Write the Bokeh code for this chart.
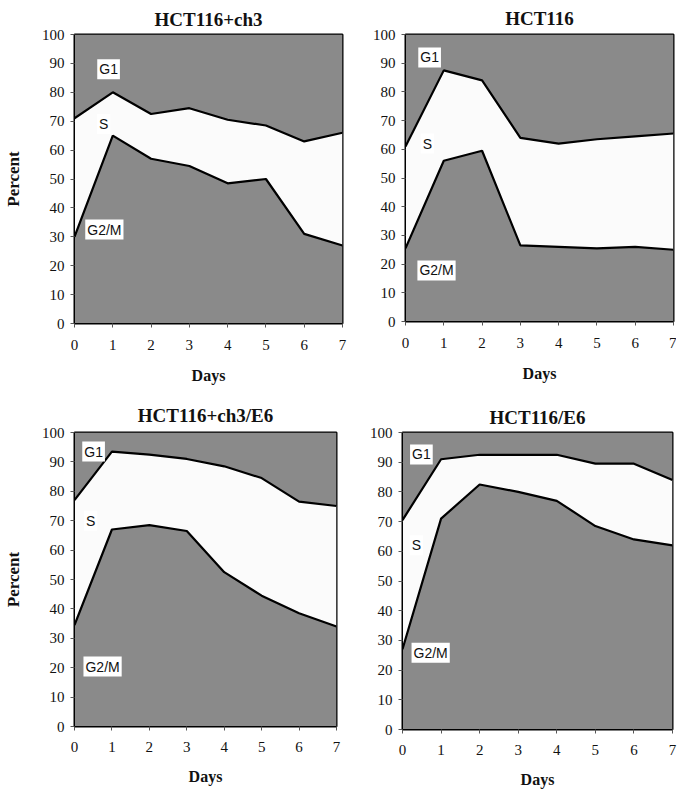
from bokeh.plotting import figure
from bokeh.layouts import column, row
from bokeh.models import ColumnDataSource, Label, Range1d, FixedTicker
from bokeh.embed import file_html
from bokeh.resources import INLINE

days = [0, 1, 2, 3, 4, 5, 6, 7]
phases = ["G2/M", "S", "G1"]

# Percent of cells in each phase (G2/M, S, G1) per day
ch3_g2m = [30, 65, 57, 54.5, 48.5, 50, 31, 27]
ch3_s = [41, 15, 15.5, 20, 22, 18.5, 32, 39]
ch3_g1 = [29, 20, 27.5, 25.5, 29.5, 31.5, 37, 34]

hct_g2m = [25.5, 56, 59.5, 26.5, 26, 25.5, 26, 25]
hct_s = [35.5, 31.5, 24.5, 37.5, 36, 38, 38.5, 40.5]
hct_g1 = [39, 12.5, 16, 36, 38, 36.5, 35.5, 34.5]

ch3e6_g2m = [34.5, 67, 68.5, 66.5, 52.5, 44.5, 38.5, 34]
ch3e6_s = [42.5, 26.5, 24, 24.5, 36, 40, 38, 41]
ch3e6_g1 = [23, 6.5, 7.5, 9, 11.5, 15.5, 23.5, 25]

e6_g2m = [27, 71, 82.5, 80, 77, 68.5, 64, 62]
e6_s = [43.5, 20, 10, 12.5, 15.5, 21, 25.5, 22]
e6_g1 = [29.5, 9, 7.5, 7.5, 7.5, 10.5, 10.5, 16]

GRAY = "#8a8a8a"
LIGHT = "#fbfbfb"
SERIF = "Liberation Serif"
SANS = "Liberation Sans"


def panel(title, g2m, s, g1, fw, fh, bl, br, bt, bb, ylabel, lab_pos,
          title_standoff, label_standoff, days_standoff):
    top_g2m = list(g2m)
    top_s = [a + b for a, b in zip(g2m, s)]
    src = ColumnDataSource(dict(day=days, g2m=g2m, s=s, g1=g1, top_g2m=top_g2m, top_s=top_s))
    p = figure(frame_width=fw, frame_height=fh, output_backend="svg", toolbar_location=None,
               x_range=Range1d(0, 7), y_range=Range1d(0, 100),
               min_border_left=bl, min_border_right=br, min_border_top=bt, min_border_bottom=bb,
               title=title)
    p.varea_stack(["g2m", "s", "g1"], x="day", source=src, color=[GRAY, LIGHT, GRAY])
    p.line("day", "top_g2m", source=src, line_color="black", line_width=2.2)
    p.line("day", "top_s", source=src, line_color="black", line_width=2.2)

    p.title.text_font = SERIF
    p.title.text_font_style = "bold"
    p.title.text_font_size = "19px"
    p.title.text_color = "#111111"
    p.title.align = "center"
    p.title.standoff = title_standoff

    p.grid.visible = False
    p.outline_line_color = "black"
    p.outline_line_width = 2
    p.background_fill_color = GRAY

    for ax in (p.xaxis[0], p.yaxis[0]):
        ax.major_label_text_font = SERIF
        ax.major_label_text_font_size = "15px"
        ax.major_label_text_color = "#111111"
        ax.axis_label_text_font = SERIF
        ax.axis_label_text_font_style = "bold"
        ax.axis_label_text_color = "#111111"
        ax.minor_tick_line_color = None
        ax.major_tick_in = 0
        ax.major_tick_out = 4
        ax.major_tick_line_color = "#555555"
        ax.axis_line_color = "black"
    p.xaxis.ticker = FixedTicker(ticks=days)
    p.yaxis.ticker = FixedTicker(ticks=list(range(0, 101, 10)))
    p.xaxis.major_label_standoff = label_standoff
    p.yaxis.major_label_standoff = 6
    p.xaxis.axis_label = "Days"
    p.xaxis.axis_label_text_font_size = "16px"
    p.xaxis.axis_label_standoff = days_standoff
    if ylabel:
        p.yaxis.axis_label = "Percent"
        p.yaxis.axis_label_text_font_size = "17px"
        p.yaxis.axis_label_standoff = 16

    for name, (lx, ly) in zip(phases, lab_pos):
        p.add_layout(Label(x=lx, y=ly, text=name, text_font=SANS, text_font_size="14px",
                           text_color="#111111", text_align="center", text_baseline="middle",
                           background_fill_color="white", background_fill_alpha=1.0,
                           padding=2))
    return p


p1 = panel("HCT116+ch3", ch3_g2m, ch3_s, ch3_g1, 268, 289, 68, 6, 27, 74, True,
           [(0.78, 32.5), (0.76, 69), (0.89, 88)], 9, 12, 14)
p2 = panel("HCT116", hct_g2m, hct_s, hct_g1, 268, 287, 57, 3, 31, 72, False,
           [(0.81, 17.8), (0.57, 62), (0.63, 92)], 11, 12, 14)
p3 = panel("HCT116+ch3/E6", ch3e6_g2m, ch3e6_s, ch3e6_g1, 262, 294, 66, 14, 36, 64, True,
           [(0.75, 20.4), (0.43, 70), (0.51, 93.5)], 14, 11, 13)
p4 = panel("HCT116/E6", e6_g2m, e6_s, e6_g1, 270, 297, 52, 6, 33, 64, False,
           [(0.73, 25.8), (0.36, 62), (0.49, 92.6)], 9, 11, 13)

layout = column(row(p1, p2), row(p3, p4))
open("out.html", "w").write(file_html(layout, INLINE))
